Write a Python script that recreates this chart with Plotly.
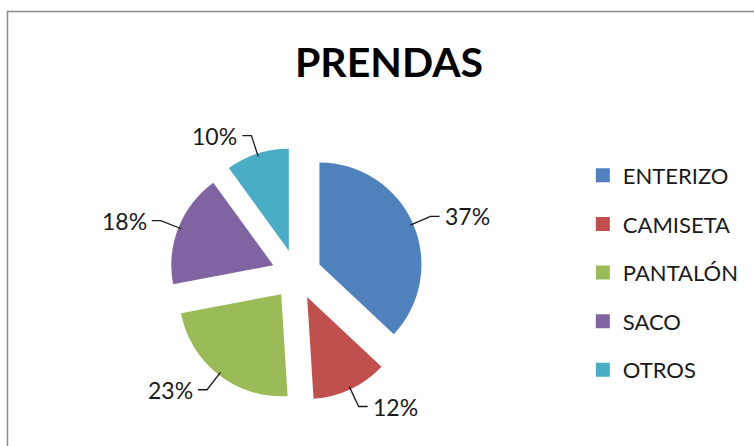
import math
import plotly.graph_objects as go

categories = ["ENTERIZO", "CAMISETA", "PANTALÓN", "SACO", "OTROS"]
values = [37, 12, 23, 18, 10]
colors = ["#4F81BD", "#C0504D", "#9BBB59", "#8064A2", "#4BACC6"]
title_text = "PRENDAS"

W, H = 754, 446
FONT = "Lato, 'Open Sans', sans-serif"

# pie geometry (paper fractions; margins are fixed at 0 so paper == page)
dom_x = [0.2248, 0.5617]
dom_y = [0.100, 0.6695]
PULL = 0.245

fig = go.Figure()

fig.add_trace(go.Pie(
    labels=categories,
    values=values,
    marker=dict(colors=colors, line=dict(width=0)),
    sort=False,
    direction="clockwise",
    rotation=0,
    pull=[PULL] * len(values),
    textinfo="none",
    domain=dict(x=dom_x, y=dom_y),
    showlegend=False,
    hoverinfo="label+percent",
))

# data labels with elbow leader lines, placed from each slice's mid angle
box = min((dom_x[1] - dom_x[0]) * W, (dom_y[1] - dom_y[0]) * H)
r = box / 2 / (1 + PULL)
cx = W * (dom_x[0] + dom_x[1]) / 2
cy = H * (1 - dom_y[0]) - (dom_y[1] - dom_y[0]) * H / 2
edge = r * (1 + PULL) - 3
elbow = 146
total = sum(values)
cum = 0
annotations = []
shapes = [dict(type="rect", xref="paper", yref="paper",
               x0=7.5 / W, x1=1.1, y0=-0.1, y1=1 - 11.5 / H,
               line=dict(color="#8c8c8c", width=1.5))]


def to_paper(px, py):
    return px / W, 1 - py / H


for v in values:
    mid = (cum + v / 2) / total * 2 * math.pi
    cum += v
    sx, sy = math.sin(mid), -math.cos(mid)
    side = 1 if sx >= 0 else -1
    p0 = (cx + edge * sx, cy + edge * sy)
    p1 = (cx + elbow * sx, cy + elbow * sy)
    p2 = (p1[0] + side * 9, p1[1])
    pts = [to_paper(*p) for p in (p0, p1, p2)]
    path = "M {} {} L {} {} L {} {}".format(*pts[0], *pts[1], *pts[2])
    shapes.append(dict(type="path", xref="paper", yref="paper", path=path,
                       line=dict(color="#1a1a1a", width=1.3)))
    tx, ty = to_paper(p2[0] + side * 3, p2[1])
    annotations.append(dict(
        x=tx, y=ty, xref="paper", yref="paper",
        xanchor="left" if side > 0 else "right", yanchor="middle",
        text=f"{round(v / total * 100)}%", showarrow=False,
        font=dict(size=23, color="#1a1a1a", family=FONT),
    ))

# legend entries (one per category, each its own group for spacing)
for cat, col in zip(categories, colors):
    fig.add_trace(go.Scatter(
        x=[None], y=[None], mode="markers", name=cat,
        marker=dict(symbol="square", size=14, color=col),
        legendgroup=cat, showlegend=True,
    ))

fig.update_layout(
    width=W, height=H,
    margin=dict(l=0, r=0, t=0, b=0, autoexpand=False),
    paper_bgcolor="white", plot_bgcolor="white",
    title=dict(text="<b>" + title_text + "</b>", x=0.516, xanchor="center",
               y=1 - 63 / H, yanchor="middle",
               font=dict(size=41, color="black", family=FONT)),
    xaxis=dict(visible=False), yaxis=dict(visible=False),
    legend=dict(x=0.773, y=0.6535, xanchor="left", yanchor="top",
                font=dict(size=22, color="#1a1a1a", family=FONT),
                tracegroupgap=17, itemwidth=30, bgcolor="rgba(0,0,0,0)"),
    annotations=annotations,
    shapes=shapes,
)

fig.write_html("out.html", config={"displayModeBar": False},
               post_script="document.body.style.margin='0';document.body.style.overflow='hidden';")
